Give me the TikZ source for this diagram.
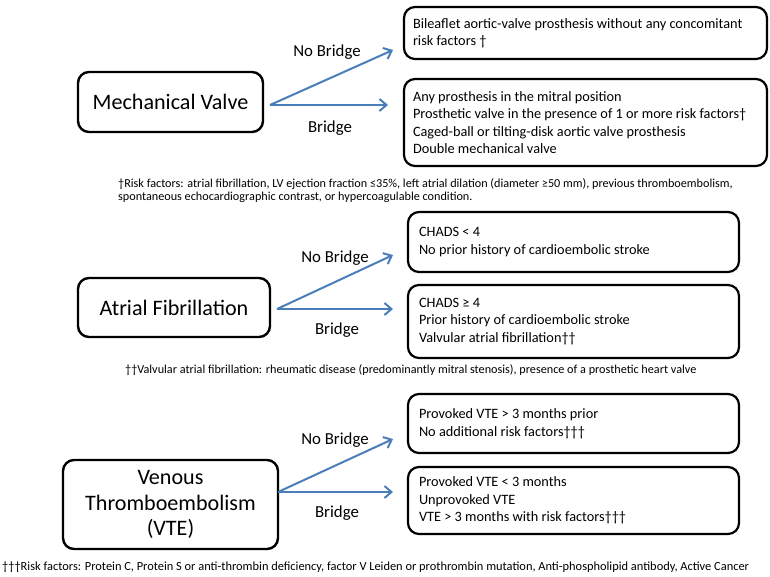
\documentclass[tikz,border=0pt]{standalone}
\usepackage{fontspec}
\setmainfont{Carlito}
\usetikzlibrary{arrows.meta}
\definecolor{arrowblue}{RGB}{74,126,187}
\tikzset{
  mainbox/.style={draw=black, line width=2.4pt, rounded corners=11pt,
    align=center, inner sep=0pt, font=\fontsize{22.1}{25.5}\selectfont},
  infobox/.style={draw=black, line width=2.2pt, rounded corners=11pt,
    align=flush left, inner xsep=9pt, inner ysep=0pt,
    font=\fontsize{14.3}{17.5}\selectfont},
  branch/.style={draw=arrowblue, line width=2pt,
    -{Straight Barb[length=7pt,width=12pt,line width=2pt]}},
  branchlabel/.style={font=\fontsize{16.8}{19}\selectfont, inner sep=0pt},
  footnote/.style={font=\fontsize{12.2}{13.5}\selectfont, align=left,
    anchor=north west, inner sep=0pt}
}
\begin{document}
\begin{tikzpicture}[x=1pt, y=-1pt]
\useasboundingbox (0,0) rectangle (770,576);

% ---------- Mechanical valve ----------
\node[mainbox, minimum width=185pt, minimum height=60pt] (mv) at (170.5,102) {Mechanical Valve};
\node[infobox, minimum width=363pt, minimum height=52pt, text width=345pt] (mvno) at (585.5,33)
  {Bileaflet aortic-valve prosthesis without any concomitant\\risk factors †};
\node[infobox, minimum width=363pt, minimum height=87pt, text width=345pt] (mvyes) at (585.5,122.5)
  {Any prosthesis in the mitral position\\
   Prosthetic valve in the presence of 1 or more risk factors†\\
   Caged-ball or tilting-disk aortic valve prosthesis\\
   Double mechanical valve};
\coordinate (mvo) at (270,105);
\coordinate (mvnotip) at (393,50);
\coordinate (mvyestip) at (388,105);
\draw[branch] (mvo) -- (mvnotip);
\draw[branch] (mvo) -- (mvyestip);
\node[branchlabel] (mvnol) at (327,52) {No Bridge};
\node[branchlabel] (mvyesl) at (330,128) {Bridge};
\node[footnote] (fn1) at (118,178)
  {†Risk factors: atrial fibrillation, LV ejection fraction ≤35\%, left atrial dilation (diameter ≥50 mm), previous thromboembolism,\\
   spontaneous echocardiographic contrast, or hypercoagulable condition.};

% ---------- Atrial fibrillation ----------
\node[mainbox, minimum width=192pt, minimum height=59pt] (af) at (174,307.5) {Atrial Fibrillation};
\node[infobox, minimum width=331pt, minimum height=60pt, text width=309pt] (afno) at (573.5,242)
  {CHADS < 4\\No prior history of cardioembolic stroke};
\node[infobox, minimum width=331pt, minimum height=73pt, text width=309pt] (afyes) at (573.5,321.5)
  {CHADS ≥ 4\\Prior history of cardioembolic stroke\\Valvular atrial fibrillation††};
\coordinate (afo) at (277,309);
\coordinate (afnotip) at (393,255);
\coordinate (afyestip) at (393,309);
\draw[branch] (afo) -- (afnotip);
\draw[branch] (afo) -- (afyestip);
\node[branchlabel] (afnol) at (335,258) {No Bridge};
\node[branchlabel] (afyesl) at (337,330) {Bridge};
\node[footnote] (fn2) at (125,364.5)
  {††Valvular atrial fibrillation: rheumatic disease (predominantly mitral stenosis), presence of a prosthetic heart valve};

% ---------- Venous thromboembolism ----------
\node[mainbox, minimum width=215pt, minimum height=89pt] (vte) at (170.5,504.5) {Venous\\Thromboembolism\\(VTE)};
\node[infobox, minimum width=331pt, minimum height=59pt, text width=309pt] (vteno) at (573.5,423.5)
  {Provoked VTE > 3 months prior\\No additional risk factors†††};
\node[infobox, minimum width=331pt, minimum height=67pt, text width=309pt] (vteyes) at (573.5,500.5)
  {Provoked VTE < 3 months\\Unprovoked VTE\\VTE > 3 months with risk factors†††};
\coordinate (vteo) at (278,492);
\coordinate (vtenotip) at (393,439);
\coordinate (vteyestip) at (393,492);
\draw[branch] (vteo) -- (vtenotip);
\draw[branch] (vteo) -- (vteyestip);
\node[branchlabel] (vtenol) at (335,440) {No Bridge};
\node[branchlabel] (vteyesl) at (337,513) {Bridge};
\node[footnote, font=\fontsize{12.4}{14}\selectfont] (fn3) at (2,562)
  {†††Risk factors: Protein C, Protein S or anti-thrombin deficiency, factor V Leiden or prothrombin mutation, Anti-phospholipid antibody, Active Cancer};
\end{tikzpicture}
\end{document}
